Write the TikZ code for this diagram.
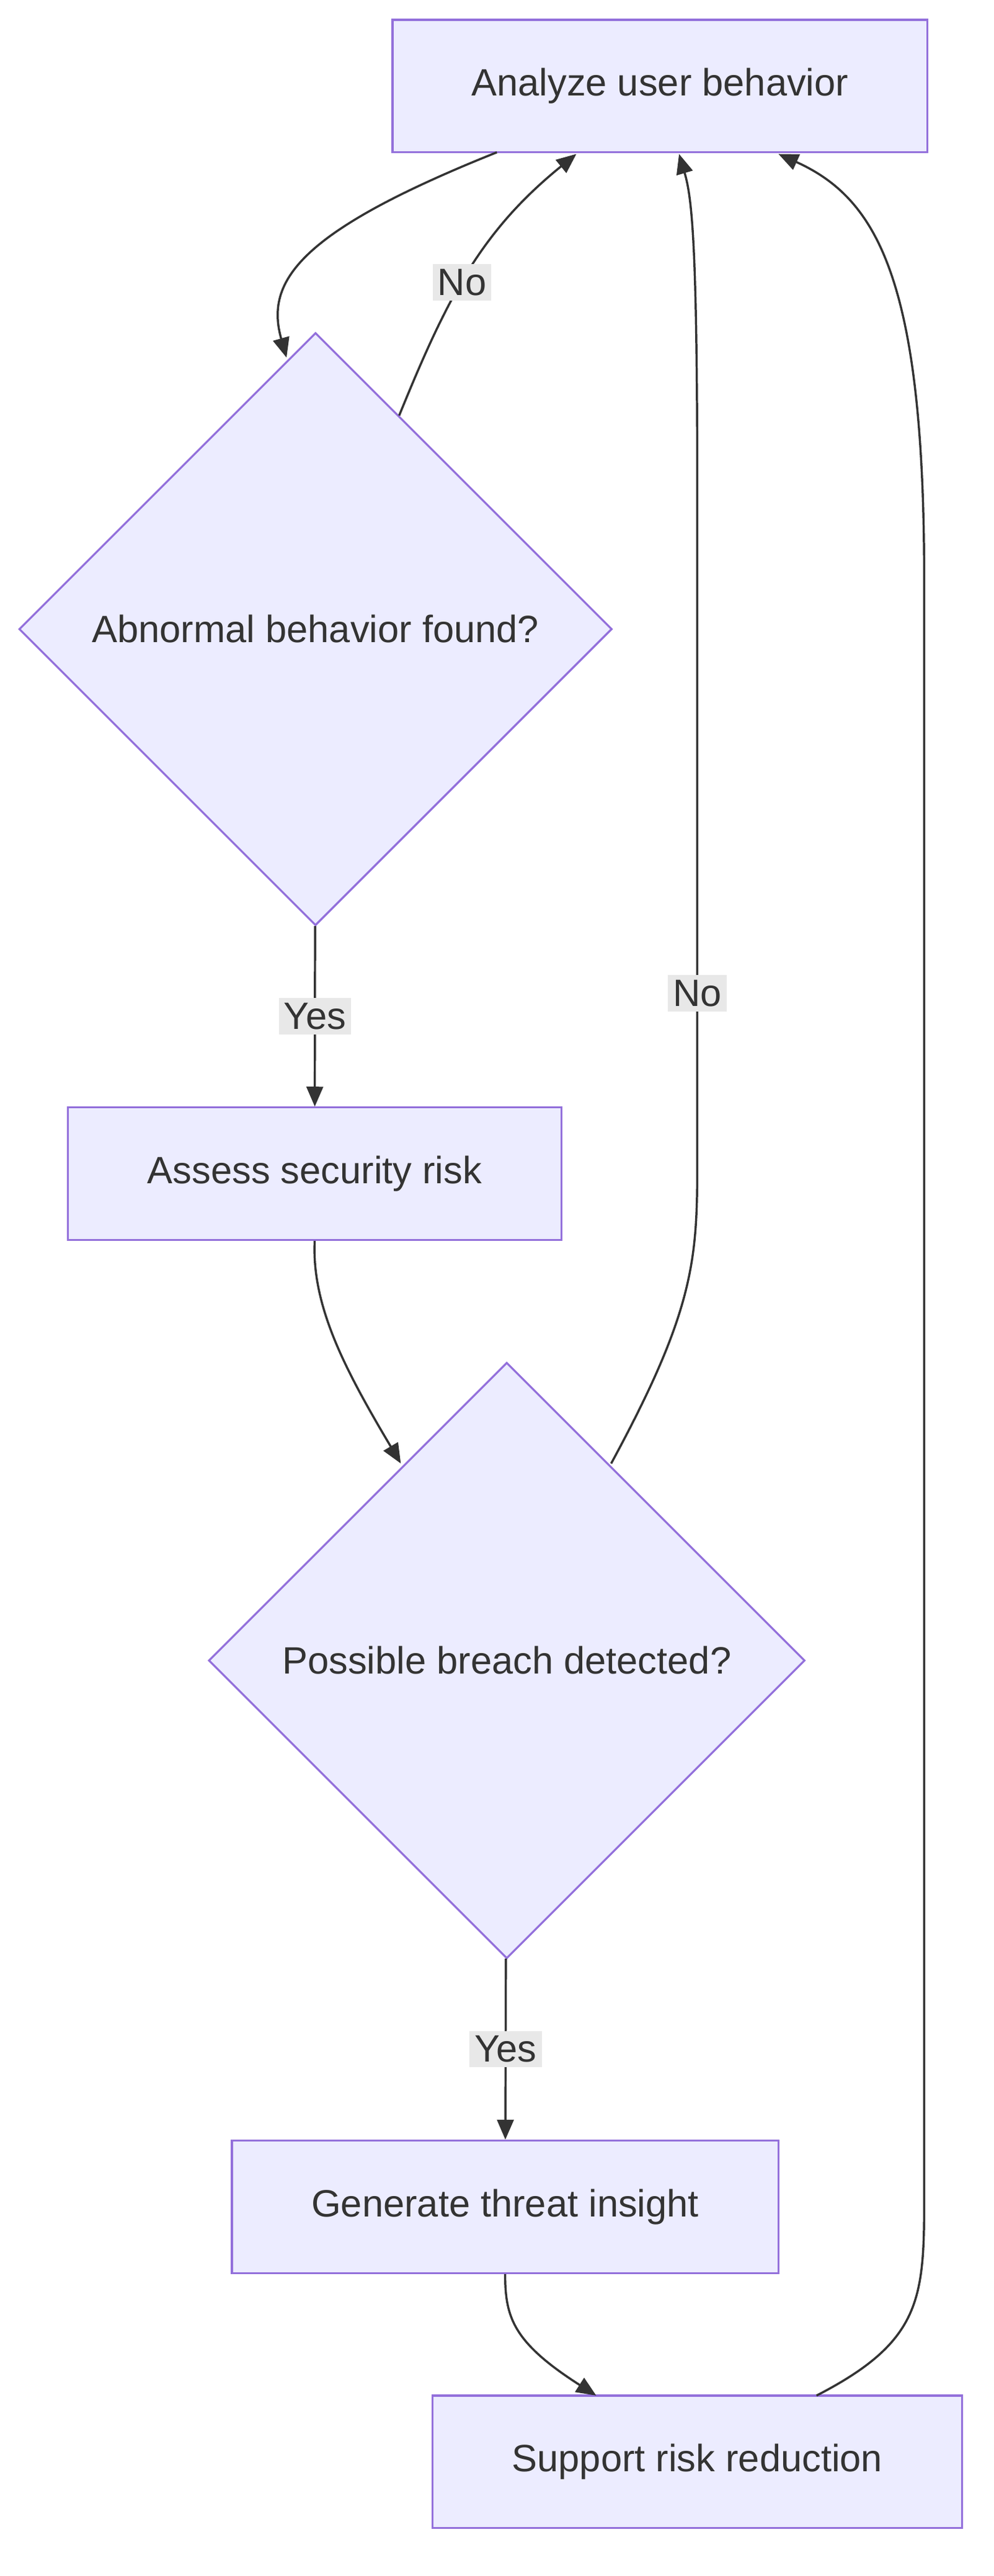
\documentclass[tikz,border=0pt]{standalone}
\usepackage{fontspec}
\setmainfont{Liberation Sans}
\usetikzlibrary{shapes.geometric,arrows.meta}
\definecolor{nfill}{HTML}{ECECFF}
\definecolor{nstroke}{HTML}{9370DB}
\definecolor{ntext}{HTML}{333333}
\definecolor{lbg}{HTML}{E8E8E8}
\begin{document}
\begin{tikzpicture}[x=1pt,y=-1pt,
  every node/.style={font=\fontsize{23}{27}\selectfont,text=ntext},
  box/.style={draw=nstroke,fill=nfill,line width=1.2pt,minimum height=80pt},
  dia/.style={draw=nstroke,fill=nfill,line width=1.2pt,diamond,minimum width=358pt,minimum height=358pt,inner sep=0pt},
  lbl/.style={fill=lbg,inner sep=3pt},
  edge/.style={draw=ntext,line width=1.3pt,-{Triangle[length=12pt,width=10pt]}}]
\useasboundingbox (0,0) rectangle (600,1556);
\node[box,minimum width=323pt] (a) at (398.5,52) {Analyze user behavior};
\node[dia] (d1) at (190.5,380) {Abnormal behavior found?};
\node[box,minimum width=298pt] (s) at (190,709) {Assess security risk};
\node[dia,minimum width=360pt,minimum height=360pt] (d2) at (306,1003) {Possible breach detected?};
\node[box,minimum width=330pt] (g) at (305,1333) {Generate threat insight};
\node[box,minimum width=320pt] (r) at (421,1487) {Support risk reduction};
\coordinate (a1) at (300,92);
\coordinate (a2) at (348,93);
\coordinate (a3) at (410,93);
\coordinate (a4) at (470,93);
\coordinate (d1t) at (173,216);
\coordinate (d1r) at (241,251);
\coordinate (d2l) at (242,884);
\coordinate (d2r) at (369,884);
\coordinate (r1) at (360,1447);
\coordinate (r2) at (493,1447);
\draw[edge] (a1) .. controls (180,140) and (160,170) .. (d1t);
\draw[edge] (d1r) .. controls (270,180) and (290,140) .. node[lbl,pos=0.45]{No} (a2);
\draw[edge] (d1) -- node[lbl]{Yes} (s);
\draw[edge] (s.south) .. controls (188,790) and (210,830) .. (d2l);
\draw[edge] (d2r) .. controls (420,790) and (421,760) .. (421,700) -- node[lbl,pos=0.25]{No} (421,300) .. controls (421,150) and (418,120) .. (a3);
\draw[edge] (d2) -- node[lbl]{Yes} (g);
\draw[edge] (g.south) .. controls (305,1400) and (310,1415) .. (r1);
\draw[edge] (r2) .. controls (555,1415) and (558,1390) .. (558,1330) -- (558,350) .. controls (558,170) and (530,120) .. (a4);
\end{tikzpicture}
\end{document}
